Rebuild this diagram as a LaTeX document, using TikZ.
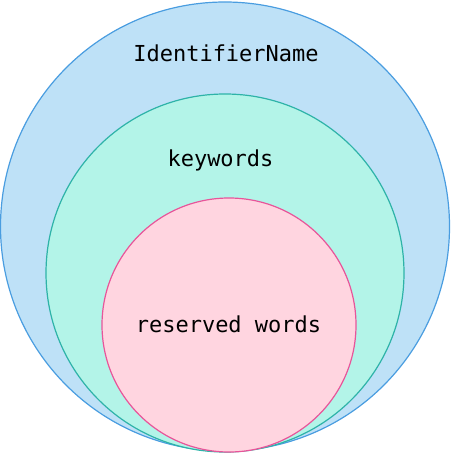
\documentclass[tikz,border=0pt]{standalone}
\usepackage{fontspec}
\setmonofont{DejaVu Sans Mono}
\definecolor{outerfill}{HTML}{BEE1F7}
\definecolor{outerline}{HTML}{4A9DE0}
\definecolor{midfill}{HTML}{B3F4E8}
\definecolor{midline}{HTML}{2EB3A8}
\definecolor{innerfill}{HTML}{FFD5E0}
\definecolor{innerline}{HTML}{E8559A}
\tikzset{
  setcircle/.style={line width=1.2pt},
  lbl/.style={font=\ttfamily\fontsize{22}{24}\selectfont, text=black, inner sep=0pt}
}
\begin{document}
\begin{tikzpicture}[x=1pt,y=-1pt]
\useasboundingbox (0,0) rectangle (451,454);
\draw[setcircle, fill=outerfill, draw=outerline] (225,226.5) circle (224.5);
\draw[setcircle, fill=midfill, draw=midline] (225,273) circle (179);
\draw[setcircle, fill=innerfill, draw=innerline] (229,325) circle (127);
\node[lbl] (idn) at (226,53) {IdentifierName};
\node[lbl] (kw) at (220.5,160) {keywords};
\node[lbl] (rw) at (228.5,324) {reserved words};
\end{tikzpicture}
\end{document}
